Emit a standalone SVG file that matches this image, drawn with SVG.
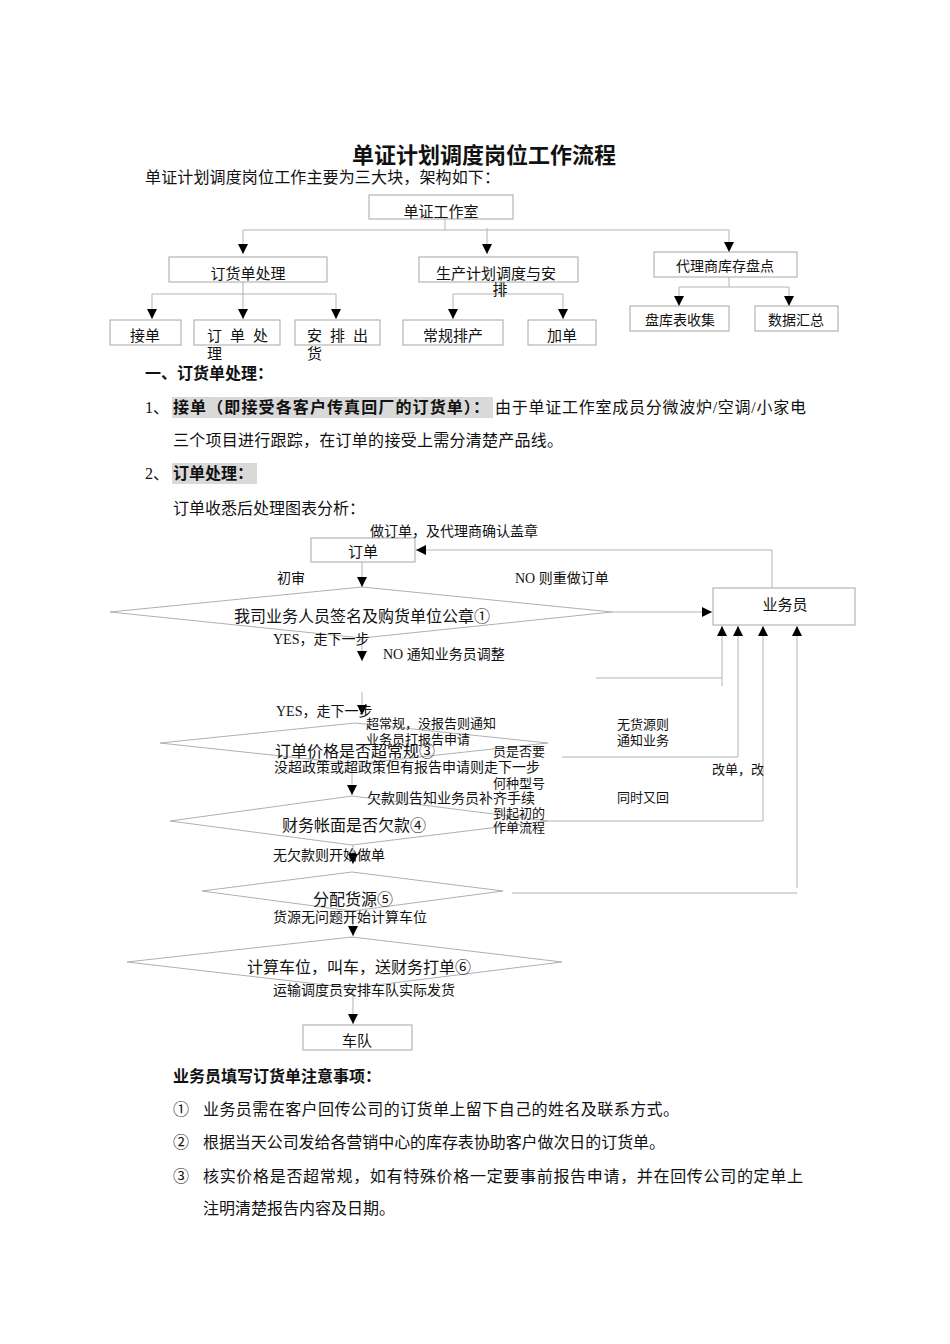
<svg xmlns="http://www.w3.org/2000/svg" width="950" height="1344" viewBox="0 0 950 1344">
<defs>
<style>
text{font-family:"Liberation Serif","Noto Sans CJK SC",serif;fill:#111;}
.t16{font-size:16px;}
.t15{font-size:15px;}
.t14{font-size:14px;}
.t13{font-size:13px;}
.b{font-weight:bold;}
.box{fill:#fff;stroke:#a6a6a6;stroke-width:1;}
.dia{fill:none;stroke:#b0b0b0;stroke-width:1;}
.ln{fill:none;stroke:#b3b3b3;stroke-width:1;}
.ar{fill:none;stroke:#b3b3b3;stroke-width:1;marker-end:url(#ah);}
.hl{fill:#d9d9d9;}
.mid{text-anchor:middle;}
</style>
<marker id="ah" markerUnits="userSpaceOnUse" markerWidth="10" markerHeight="10" refX="10" refY="5" orient="auto">
<path d="M0,0 L10,5 L0,10 z" fill="#000"/>
</marker>
</defs>
<rect width="950" height="1344" fill="#fff"/>

<text x="484" y="163" class="mid b" style="font-size:22px">单证计划调度岗位工作流程</text>
<text x="145" y="183" class="t16" textLength="355">单证计划调度岗位工作主要为三大块，架构如下：</text>

<!-- org chart connectors -->
<g id="org-connectors">
<path class="ln" d="M445 219 V230 M243 230 H729"/>
<path class="ar" d="M243 230 V254"/>
<path class="ar" d="M729 230 V252"/>
<path class="ar" d="M487 228 V254"/>
<path class="ln" d="M243 282 V294 M152 294 H336"/>
<path class="ar" d="M152 294 V319"/>
<path class="ar" d="M243 294 V319"/>
<path class="ar" d="M336 294 V319"/>
<path class="ln" d="M500 282 V294 M453 294 H563"/>
<path class="ar" d="M453 294 V319"/>
<path class="ar" d="M563 294 V319"/>
<path class="ln" d="M729 277 V287 M679 287 H789"/>
<path class="ar" d="M679 287 V306"/>
<path class="ar" d="M789 287 V306"/>
</g>

<g id="n-office"><rect class="box" x="369" y="195" width="144" height="24"/><text x="441" y="217" class="t15 mid">单证工作室</text></g>
<g id="n-order-proc"><rect class="box" x="169" y="257" width="158" height="25"/><text x="248" y="279" class="t15 mid">订货单处理</text></g>
<g id="n-prod"><rect class="box" x="419" y="257" width="159" height="25"/><text x="436" y="279" class="t15">生产计划调度与安</text><text x="500" y="295" class="t15 mid">排</text></g>
<g id="n-agent"><rect class="box" x="654" y="252" width="143" height="25"/><text x="725" y="271" class="t14 mid">代理商库存盘点</text></g>
<g id="n-jiedan"><rect class="box" x="110" y="320" width="71" height="25"/><text x="145" y="341" class="t15 mid">接单</text></g>
<g id="n-ddcl"><rect class="box" x="194" y="320" width="86" height="25"/><text x="207" y="341" class="t15" style="letter-spacing:8px">订单处</text><text x="207" y="359" class="t15">理</text></g>
<g id="n-apch"><rect class="box" x="295" y="320" width="85" height="25"/><text x="307" y="341" class="t15" style="letter-spacing:8px">安排出</text><text x="307" y="359" class="t15">货</text></g>
<g id="n-cgpc"><rect class="box" x="403" y="320" width="100" height="25"/><text x="453" y="341" class="t15 mid">常规排产</text></g>
<g id="n-jd"><rect class="box" x="528" y="320" width="68" height="25"/><text x="562" y="341" class="t15 mid">加单</text></g>
<g id="n-pkb"><rect class="box" x="630" y="306" width="99" height="25"/><text x="680" y="325" class="t14 mid">盘库表收集</text></g>
<g id="n-sjhz"><rect class="box" x="755" y="306" width="83" height="25"/><text x="796" y="325" class="t14 mid">数据汇总</text></g>

<!-- section text -->
<text x="145" y="379" class="t16 b">一、订货单处理：</text>
<rect class="hl" x="172" y="397" width="321" height="21"/>
<text x="145" y="413" class="t16">1、</text>
<text x="173" y="413" class="t16 b" textLength="316">接单（即接受各客户传真回厂的订货单）：</text>
<text x="495" y="413" class="t16" textLength="311">由于单证工作室成员分微波炉/空调/小家电</text>
<text x="173" y="446" class="t16" textLength="390">三个项目进行跟踪，在订单的接受上需分清楚产品线。</text>
<rect class="hl" x="172" y="463" width="85" height="21"/>
<text x="145" y="479" class="t16">2、</text>
<text x="173" y="479" class="t16 b">订单处理：</text>
<text x="173" y="514" class="t16">订单收悉后处理图表分析：</text>

<!-- flowchart connectors -->
<g id="flow-connectors">
<polygon class="dia" points="362,587 612,612 362,638 110,612"/>
<polygon class="dia" points="355,723 548,743 355,764 160,743"/>
<polygon class="dia" points="352,796 548,821 352,845 170,821"/>
<polygon class="dia" points="352,872 503,891 352,911 202,891"/>
<polygon class="dia" points="352,937 562,962 352,988 127,962"/>
<path class="ar" d="M362 562 V587"/>
<path class="ar" d="M772 588 V550 H416"/>
<path class="ar" d="M612 612 H712"/>
<path class="ar" d="M362 638 V661"/>
<path class="ar" d="M362 692 V715"/>
<path class="ar" d="M352 764 V795"/>
<path class="ar" d="M353 845 V864"/>
<path class="ar" d="M353 911 V936"/>
<path class="ar" d="M353 988 V1024"/>
<path class="ln" d="M596 678 H722"/>
<path class="ar" d="M722 686 V626"/>
<path class="ar" d="M562 757 H738 V626"/>
<path class="ar" d="M548 821 H763 V626"/>
<path class="ln" d="M512 893 H797"/>
<path class="ar" d="M797 888 V626"/>
</g>

<g id="f-order"><rect class="box" x="311" y="538" width="104" height="24"/><text x="363" y="557" class="t15 mid">订单</text></g>
<g id="f-sales"><rect class="box" x="713" y="588" width="142" height="37"/><text x="785" y="610" class="t15 mid">业务员</text></g>
<g id="f-d1"><text x="362" y="622" class="t16 mid">我司业务人员签名及购货单位公章①</text></g>
<g id="f-d2"><text x="275" y="757" class="t16">订单价格是否超常规③</text></g>
<g id="f-d3"><text x="282" y="831" class="t16">财务帐面是否欠款④</text></g>
<g id="f-d4"><text x="313" y="905" class="t16">分配货源⑤</text></g>
<g id="f-d5"><text x="247" y="973" class="t16">计算车位，叫车，送财务打单⑥</text></g>
<g id="f-fleet"><rect class="box" x="303" y="1025" width="109" height="25"/><text x="357" y="1046" class="t15 mid">车队</text></g>

<g id="flow-labels">
<text x="370" y="536" class="t14">做订单，及代理商确认盖章</text>
<text x="277" y="583" class="t14">初审</text>
<text x="515" y="583" class="t14">NO 则重做订单</text>
<text x="273" y="644" class="t14">YES，走下一步</text>
<text x="383" y="659" class="t14">NO 通知业务员调整</text>
<text x="276" y="716" class="t14">YES，走下一步</text>
<text x="366" y="728" class="t13">超常规，没报告则通知</text>
<text x="366" y="744" class="t13">业务员打报告申请</text>
<text x="493" y="756" class="t13">员是否要</text>
<text x="274" y="772" class="t14">没超政策或超政策但有报告申请则走下一步</text>
<text x="493" y="788" class="t13">何种型号</text>
<text x="367" y="803" class="t14">欠款则告知业务员补齐手续</text>
<text x="493" y="818" class="t13">到起初的</text>
<text x="493" y="832" class="t13">作单流程</text>
<text x="273" y="860" class="t14">无欠款则开始做单</text>
<text x="273" y="922" class="t14">货源无问题开始计算车位</text>
<text x="273" y="995" class="t14">运输调度员安排车队实际发货</text>
<text x="617" y="729" class="t13">无货源则</text>
<text x="617" y="745" class="t13">通知业务</text>
<text x="712" y="774" class="t13">改单，改</text>
<text x="617" y="802" class="t13">同时又回</text>
</g>

<!-- notes -->
<text x="173" y="1082" class="t16 b">业务员填写订货单注意事项：</text>
<text x="173" y="1115" class="t16">①</text>
<text x="203" y="1115" class="t16" textLength="476">业务员需在客户回传公司的订货单上留下自己的姓名及联系方式。</text>
<text x="173" y="1148" class="t16">②</text>
<text x="203" y="1148" class="t16" textLength="462">根据当天公司发给各营销中心的库存表协助客户做次日的订货单。</text>
<text x="173" y="1182" class="t16">③</text>
<text x="203" y="1182" class="t16" textLength="600">核实价格是否超常规，如有特殊价格一定要事前报告申请，并在回传公司的定单上</text>
<text x="203" y="1214" class="t16">注明清楚报告内容及日期。</text>
</svg>
